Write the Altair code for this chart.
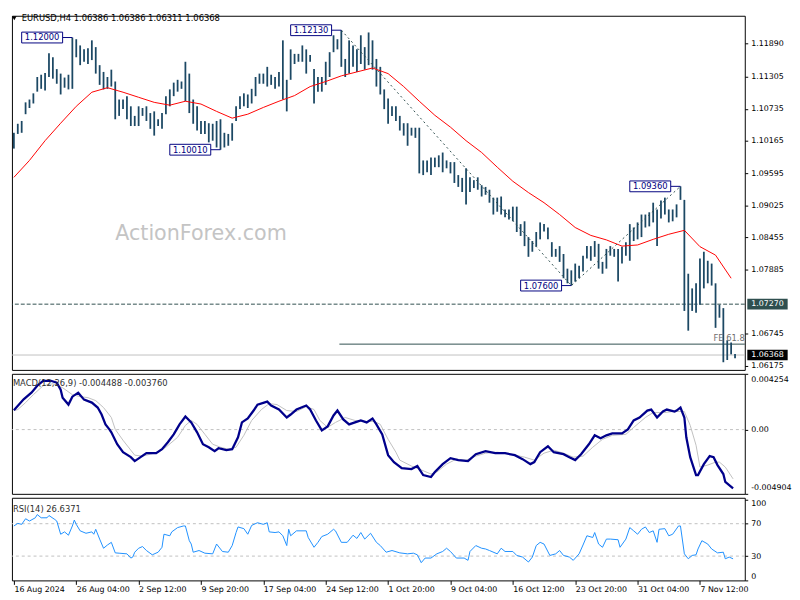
import altair as alt
import pandas as pd

# ------------------------------------------------------------------ data
# H4 bar slots (every other H4 bar is drawn), high / low prices read from the chart
bar_slot = list(range(0, 371, 2))
bar_high = [
    1.1031, 1.1047, 1.1052, 1.1085, 1.1090, 1.1101, 1.1130, 1.1134, 1.1137, 1.1172,
    1.1165, 1.1144, 1.1136, 1.1129, 1.1134, 1.1200, 1.1197, 1.1186, 1.1179, 1.1181,
    1.1195, 1.1183, 1.1151, 1.1139, 1.1130, 1.1143, 1.1122, 1.1090, 1.1090, 1.1096,
    1.1078, 1.1061, 1.1078, 1.1075, 1.1078, 1.1066, 1.1069, 1.1055, 1.1066, 1.1096,
    1.1108, 1.1120, 1.1125, 1.1122, 1.1157, 1.1136, 1.1090, 1.1078, 1.1052, 1.1052,
    1.1048, 1.1047, 1.1052, 1.1055, 1.1031, 1.1029, 1.1048, 1.1078, 1.1096, 1.1101,
    1.1099, 1.1109, 1.1130, 1.1136, 1.1136, 1.1148, 1.1134, 1.1130, 1.1139, 1.1195,
    1.1125, 1.1179, 1.1171, 1.1171, 1.1186, 1.1179, 1.1169, 1.1144, 1.1130, 1.1130,
    1.1157, 1.1174, 1.1204, 1.1197, 1.1213, 1.1162, 1.1195, 1.1186, 1.1179, 1.1204,
    1.1183, 1.1209, 1.1195, 1.1162, 1.1148, 1.1108, 1.1092, 1.1078, 1.1078, 1.1061,
    1.1048, 1.1048, 1.1040, 1.1040, 1.1040, 1.0982, 1.0982, 1.0987, 1.0987, 1.0991,
    1.0996, 1.0982, 1.0979, 1.0979, 1.0956, 1.0951, 1.0968, 1.0952, 1.0947, 1.0952,
    1.0938, 1.0935, 1.0930, 1.0916, 1.0916, 1.0918, 1.0895, 1.0895, 1.0900, 1.0900,
    1.0869, 1.0874, 1.0846, 1.0839, 1.0855, 1.0872, 1.0869, 1.0863, 1.0837, 1.0825,
    1.0830, 1.0816, 1.0790, 1.0787, 1.0799, 1.0795, 1.0813, 1.0830, 1.0830, 1.0839,
    1.0834, 1.0802, 1.0825, 1.0830, 1.0825, 1.0825, 1.0829, 1.0837, 1.0869, 1.0863,
    1.0872, 1.0886, 1.0886, 1.0890, 1.0907, 1.0895, 1.0911, 1.0916, 1.0895, 1.0895,
    1.0904, 1.0936, 1.0912, 1.0781, 1.0755, 1.0764, 1.0808, 1.0820, 1.0804, 1.0799,
    1.0764, 1.0726, 1.0720, 1.0663, 1.0659, 1.06386,
]
bar_low = [
    1.1003, 1.1029, 1.1031, 1.1064, 1.1075, 1.1083, 1.1104, 1.1109, 1.1106, 1.1130,
    1.1127, 1.1118, 1.1099, 1.1111, 1.1108, 1.1109, 1.1165, 1.1151, 1.1157, 1.1153,
    1.1160, 1.1136, 1.1116, 1.1108, 1.1109, 1.1113, 1.1055, 1.1061, 1.1073, 1.1055,
    1.1043, 1.1043, 1.1043, 1.1061, 1.1052, 1.1038, 1.1026, 1.1043, 1.1038, 1.1064,
    1.1078, 1.1096, 1.1104, 1.1109, 1.1087, 1.1066, 1.1047, 1.1035, 1.1029, 1.1029,
    1.1014, 1.1017, 1.1005, 1.1001, 1.1005, 1.1008, 1.1017, 1.1052, 1.1073, 1.1078,
    1.1075, 1.1083, 1.1096, 1.1118, 1.1118, 1.1113, 1.1116, 1.1109, 1.1113, 1.1090,
    1.1069, 1.1125, 1.1153, 1.1157, 1.1157, 1.1136, 1.1157, 1.1083, 1.1104, 1.1104,
    1.1116, 1.1130, 1.1174, 1.1179, 1.1148, 1.1130, 1.1136, 1.1148, 1.1139, 1.1153,
    1.1143, 1.1151, 1.1143, 1.1113, 1.1099, 1.1073, 1.1047, 1.1061, 1.1052, 1.1035,
    1.1026, 1.1008, 1.1026, 1.1022, 1.0959, 1.0956, 1.0961, 1.0956, 1.0970, 1.0970,
    1.0961, 1.0968, 1.0959, 1.0942, 1.0935, 1.0926, 1.0904, 1.0926, 1.0933, 1.0930,
    1.0918, 1.0921, 1.0907, 1.0886, 1.0891, 1.0886, 1.0881, 1.0877, 1.0874, 1.0855,
    1.0848, 1.0830, 1.0811, 1.0820, 1.0829, 1.0842, 1.0856, 1.0842, 1.0811, 1.0811,
    1.0802, 1.0773, 1.0764, 1.0760, 1.0767, 1.0773, 1.0785, 1.0808, 1.0804, 1.0811,
    1.0790, 1.0781, 1.0790, 1.0813, 1.0811, 1.0767, 1.0799, 1.0813, 1.0804, 1.0839,
    1.0842, 1.0846, 1.0863, 1.0865, 1.0872, 1.0830, 1.0879, 1.0886, 1.0872, 1.0874,
    1.0881, 1.0912, 1.0715, 1.0680, 1.0715, 1.0712, 1.0726, 1.0755, 1.0764, 1.0760,
    1.0685, 1.0703, 1.0624, 1.0628, 1.0638, 1.06311,
]

# red moving average
ma_slot = list(range(0, 369, 8))
ma_value = [
    1.0952, 1.0982, 1.1017, 1.1048, 1.1078, 1.1103, 1.1111, 1.1103, 1.1094, 1.1085,
    1.1080, 1.1087, 1.1082, 1.1069, 1.1057, 1.1064, 1.1076, 1.1087, 1.1097, 1.1113,
    1.1122, 1.1132, 1.1139, 1.1146, 1.1136, 1.1113, 1.1087, 1.1062, 1.1041, 1.1017,
    1.0996, 1.0970, 1.0945, 1.0925, 1.0907, 1.0886, 1.0863, 1.0849, 1.0841, 1.0830,
    1.0832, 1.0842, 1.0851, 1.0858, 1.0829, 1.0814, 1.0773,
]

# MACD(12,26,9) main line
macd_slot = [
    0, 5, 9, 12, 15, 19, 22, 24, 25, 28,
    30, 33, 36, 40, 43, 45, 47, 49, 50, 53,
    56, 60, 62, 65, 68, 73, 76, 79, 82, 85,
    88, 91, 94, 97, 100, 103, 105, 109, 112, 115,
    117, 120, 123, 125, 130, 132, 136, 140, 142, 145,
    150, 152, 155, 158, 161, 164, 166, 169, 172, 175,
    178, 181, 184, 186, 189, 192, 195, 199, 204, 207,
    210, 214, 216, 220, 224, 228, 233, 237, 242, 247,
    252, 257, 261, 265, 267, 270, 274, 277, 282, 285,
    288, 291, 295, 298, 301, 304, 307, 312, 315, 318,
    321, 325, 327, 330, 333, 335, 339, 340, 342, 344,
    345, 347, 350, 351, 354, 357, 359, 361, 364, 365,
    369,
]
macd_value = [
    0.001476, 0.002309, 0.002816, 0.003345, 0.003724, 0.003724, 0.003573, 0.003043, 0.002437, 0.001907,
    0.002513, 0.002816, 0.002286, 0.002059, 0.00168, 0.00115, 0.000394, 0.000015, -0.000212, -0.00112,
    -0.001726, -0.002104, -0.002407, -0.002104, -0.001801, -0.001801, -0.001499, -0.000969, -0.000363, 0.000394,
    0.000999, 0.000545, -0.000212, -0.00112, -0.001347, -0.00165, -0.001423, -0.001574, -0.001499, -0.00059,
    0.000545, 0.000848, 0.001453, 0.001907, 0.002134, 0.001832, 0.001529, 0.000923, 0.00115, 0.001529,
    0.001832, 0.001529, 0.000696, -0.000061, 0.000242, 0.001075, 0.001453, 0.000772, 0.000394, 0.000545,
    0.000696, 0.000545, 0.000848, 0.000394, -0.000363, -0.001953, -0.002483, -0.002937, -0.003012, -0.002785,
    -0.003467, -0.003618, -0.00324, -0.002634, -0.00218, -0.002331, -0.002407, -0.001877, -0.00165, -0.001801,
    -0.001801, -0.001953, -0.002256, -0.002634, -0.002483, -0.001726, -0.001272, -0.001726, -0.001877, -0.002104,
    -0.002331, -0.001877, -0.00112, -0.000439, -0.000666, -0.000439, -0.000288, -0.000288, 0.000015, 0.000696,
    0.000923, 0.001453, 0.001529, 0.000923, 0.001378, 0.001529, 0.001378, 0.001453, 0.00168, 0.000923,
    -0.00059, -0.002104, -0.003467, -0.003467, -0.002634, -0.002028, -0.002104, -0.00271, -0.003391, -0.003996,
    -0.004488,
]

# MACD signal line
signal_slot = [
    0, 2, 6, 10, 15, 20, 25, 30, 34, 38,
    42, 46, 50, 52, 56, 60, 62, 66, 70, 74,
    78, 84, 88, 91, 94, 98, 102, 106, 110, 114,
    118, 122, 127, 131, 135, 140, 145, 150, 154, 157,
    161, 165, 170, 175, 180, 185, 188, 192, 196, 198,
    204, 208, 214, 217, 222, 227, 232, 237, 242, 248,
    255, 262, 267, 272, 277, 282, 287, 292, 297, 302,
    307, 314, 318, 324, 328, 334, 338, 344, 347, 350,
    352, 356, 360, 362, 365, 369,
]
signal_value = [
    0.001453, 0.001529, 0.002059, 0.002664, 0.003345, 0.003497, 0.003194, 0.002664, 0.002513, 0.002437,
    0.00221, 0.00168, 0.000923, 0.000015, -0.000817, -0.001574, -0.001953, -0.002028, -0.001877, -0.001726,
    -0.001347, -0.00059, 0.000318, 0.000696, 0.000394, -0.000363, -0.00112, -0.001347, -0.001499, -0.001347,
    -0.000439, 0.000696, 0.001529, 0.001983, 0.001907, 0.001453, 0.001378, 0.001756, 0.001529, 0.000696,
    0.000167, 0.000545, 0.000923, 0.000696, 0.000621, 0.000621, 0.000394, -0.000742, -0.001726, -0.002331,
    -0.002785, -0.003012, -0.003391, -0.00324, -0.002634, -0.002256, -0.002331, -0.002028, -0.001801, -0.001726,
    -0.001877, -0.002104, -0.002331, -0.001801, -0.001574, -0.001801, -0.002104, -0.002028, -0.001347, -0.000742,
    -0.000439, -0.000363, 0.000167, 0.000923, 0.001302, 0.001302, 0.001378, 0.001378, 0.000318, -0.001196,
    -0.002861, -0.00271, -0.002483, -0.002483, -0.002861, -0.00376,
]

# RSI(14)
rsi_slot = [
    0, 2, 4, 6, 8, 11, 12, 14, 17, 18,
    21, 22, 24, 26, 28, 30, 31, 32, 34, 37,
    40, 41, 42, 44, 46, 48, 50, 52, 54, 58,
    60, 61, 62, 64, 66, 68, 71, 74, 76, 77,
    80, 81, 84, 87, 88, 90, 91, 92, 95, 98,
    102, 104, 107, 110, 112, 114, 115, 118, 120, 122,
    125, 128, 130, 131, 134, 136, 138, 140, 141, 142,
    145, 150, 151, 154, 156, 158, 161, 164, 165, 168,
    171, 174, 176, 178, 180, 183, 186, 188, 191, 194,
    198, 202, 205, 207, 209, 211, 214, 217, 220, 222,
    224, 227, 231, 233, 234, 237, 240, 242, 244, 248,
    250, 252, 256, 258, 261, 264, 266, 268, 270, 272,
    275, 278, 280, 282, 285, 287, 290, 292, 294, 297,
    298, 300, 302, 304, 306, 310, 311, 314, 316, 318,
    320, 322, 324, 326, 328, 330, 331, 334, 336, 338,
    341, 342, 344, 346, 348, 350, 351, 353, 356, 358,
    361, 364, 365, 367, 369,
]
rsi_value = [
    67.2, 70.4, 69.2, 76.1, 73.3, 77.3, 81.3, 77.3, 77.3, 80.1,
    75.2, 73.3, 57.0, 59.9, 55.8, 67.2, 74.5, 69.2, 61.2, 58.2,
    59.9, 57.0, 63.1, 51.0, 39.7, 43.7, 47.0, 34.0, 33.6, 32.8,
    27.6, 28.8, 34.8, 39.7, 41.8, 36.9, 31.6, 34.8, 40.9, 57.0,
    55.1, 59.9, 65.2, 67.2, 67.2, 49.0, 44.9, 34.8, 36.9, 33.6,
    32.8, 44.9, 35.7, 34.8, 43.0, 59.1, 66.0, 63.9, 57.0, 67.9,
    71.2, 69.2, 71.2, 59.9, 59.1, 59.9, 55.1, 43.0, 63.1, 55.1,
    61.2, 61.2, 53.0, 40.9, 47.0, 54.2, 57.0, 63.1, 61.2, 47.0,
    47.0, 55.8, 51.8, 59.1, 51.0, 58.2, 47.0, 43.0, 34.8, 36.9,
    34.0, 32.8, 33.6, 31.6, 21.9, 27.6, 27.6, 32.8, 35.7, 39.7,
    35.7, 27.6, 27.6, 24.8, 35.7, 43.0, 39.7, 38.8, 36.9, 32.8,
    39.7, 35.7, 35.7, 30.8, 28.8, 22.7, 28.8, 43.0, 47.0, 44.9,
    30.8, 32.8, 36.9, 30.8, 28.8, 24.8, 32.8, 43.7, 55.1, 53.0,
    59.1, 44.9, 40.9, 51.0, 51.0, 50.2, 40.9, 51.0, 65.2, 61.2,
    57.0, 63.1, 66.0, 59.1, 61.2, 47.0, 63.1, 63.9, 55.1, 57.0,
    67.2, 67.2, 32.8, 26.7, 30.8, 31.6, 38.8, 49.0, 44.9, 38.8,
    34.0, 34.8, 26.7, 28.8, 26.6371,
]

# axis ticks / labels
price_ticks = [1.11890, 1.11305, 1.10735, 1.10165, 1.09595, 1.09025, 1.08455, 1.07885, 1.06745, 1.06175]
time_slots = [0, 32, 64, 96, 128, 160, 192, 224, 256, 288, 320, 352]
time_labels = ["16 Aug 2024", "26 Aug 04:00", "2 Sep 12:00", "9 Sep 20:00", "17 Sep 04:00",
               "24 Sep 12:00", "1 Oct 20:00", "9 Oct 04:00", "16 Oct 12:00", "23 Oct 20:00",
               "31 Oct 04:00", "7 Nov 12:00"]
macd_ticks = [0.004254, 0.0, -0.004904]
rsi_ticks = [100, 70, 30, 0]

# swing point annotations
swing_slot = [30, 106, 168, 286, 342]
swing_price = [1.12000, 1.10010, 1.12130, 1.07600, 1.09360]
swing_text = ["1.12000", "1.10010", "1.12130", "1.07600", "1.09360"]

# fibonacci expansion tool (A-B-C) and level lines
fe_slot = [168, 286, 342]
fe_price = [1.12130, 1.07600, 1.09360]
fe618_price = 1.06561
level_price = 1.07270
last_price = 1.06368

title_text = "EURUSD,H4  1.06386 1.06386 1.06311 1.06368"
macd_title = "MACD(12,26,9) -0.004488 -0.003760"
rsi_title = "RSI(14) 26.6371"

# ------------------------------------------------------------------ styling
FONT = "DejaVu Sans"
BAR = "#1C4864"
SLATE = "#2F4F4F"
NAVY = "#000080"
W = 745
XS = alt.Scale(domain=[-1, 375], nice=False, zero=False)
YM = alt.Scale(domain=[1.06104, 1.12386], nice=False, zero=False)
YD = alt.Scale(domain=[-0.004904, 0.004254], nice=False, zero=False)
YR = alt.Scale(domain=[0, 102], nice=False, zero=False)

common_axis = dict(grid=False, domain=False, tickSize=3, tickColor="black", labelColor="black",
                   labelFont=FONT, labelFontSize=8, labelPadding=3, title=None, labelOverlap=False)
main_axis = alt.Axis(orient="right", values=price_ticks, format=".5f", **common_axis)
macd_axis = alt.Axis(orient="right", values=macd_ticks,
                     labelExpr="datum.value > 0.004 ? '0.004254' : (datum.value < -0.004 ? '-0.004904' : '0.00')",
                     labelFlush=4, labelFlushOffset=-2, **common_axis)
rsi_axis = alt.Axis(orient="right", values=rsi_ticks, format="d", labelFlush=4, labelFlushOffset=0,
                    **common_axis)

label_expr = " : ".join(f"datum.value == {s} ? '{l}'" for s, l in zip(time_slots, time_labels)) + " : ''"
time_axis = alt.Axis(values=time_slots, labelExpr=label_expr, labelAlign="left", labelBaseline="top",
                     tickSize=4, tickColor="black", domain=False, grid=False, labelPadding=1,
                     labelOverlap=False, labelFlush=False, labelFont=FONT, labelFontSize=8,
                     labelColor="black", title=None)


def xm(field):
    return alt.X(field, type="quantitative", scale=XS, axis=None)


def xr(field):
    return alt.X(field, type="quantitative", scale=XS, axis=time_axis)


def ym(field):
    return alt.Y(field, type="quantitative", scale=YM, axis=main_axis)


def yd(field):
    return alt.Y(field, type="quantitative", scale=YD, axis=macd_axis)


def yr(field):
    return alt.Y(field, type="quantitative", scale=YR, axis=rsi_axis)


# ------------------------------------------------------------------ main panel
bars_df = pd.DataFrame({"slot": bar_slot, "high": bar_high, "low": bar_low})
ma_df = pd.DataFrame({"slot": ma_slot, "v": ma_value})
sw = pd.DataFrame({"slot": swing_slot, "p": swing_price, "t": swing_text})
sw["bx0"] = sw["slot"] - 26
sw["bx1"] = sw["slot"] - 5
sw["tx"] = sw["slot"] - 15.5
sw["ptop"] = sw["p"] + 0.00096
sw["pbot"] = sw["p"] - 0.00096
fe_df = pd.DataFrame({"slot": fe_slot, "p": fe_price})
lvl = pd.DataFrame({"p": [level_price]})
last = pd.DataFrame({"p": [last_price]})
fe618 = pd.DataFrame({"x0": [fe_slot[0] - 1], "x1": [375], "p": [fe618_price], "t": ["FE 61.8"]})
boxes = pd.DataFrame({"p": [level_price, last_price], "t": ["1.07270", "1.06368"],
                      "fill": [SLATE, "#000000"]})
boxes["x0"] = 376.3
boxes["x1"] = 397.0
boxes["tx"] = 386.7
boxes["ptop"] = boxes["p"] + 0.00094
boxes["pbot"] = boxes["p"] - 0.00094
wm = pd.DataFrame({"slot": [96], "p": [1.0851], "t": ["ActionForex.com"]})
ttl = pd.DataFrame({"slot": [4], "tri": [0.2], "p": [1.12343], "t": [title_text]})

watermark = alt.Chart(wm).mark_text(font=FONT, fontSize=21, color="#C4C4C4").encode(
    x=xm("slot"), y=ym("p"), text="t:N")
level_line = alt.Chart(lvl).mark_rule(color=SLATE, strokeDash=[4, 2], strokeWidth=1).encode(y=ym("p"))
last_line = alt.Chart(last).mark_rule(color="#C0C0C0", strokeWidth=1).encode(y=ym("p"))
fe_line = alt.Chart(fe618).mark_rule(color=SLATE, strokeWidth=1).encode(x=xm("x0"), x2="x1:Q", y=ym("p"))
bars = alt.Chart(bars_df).mark_rule(color=BAR, strokeWidth=1.8).encode(x=xm("slot"), y=ym("low"), y2="high:Q")
ma_line = alt.Chart(ma_df).mark_line(color="#FF0000", strokeWidth=1).encode(x=xm("slot"), y=ym("v"))
fe_path = alt.Chart(fe_df).mark_line(color=SLATE, strokeWidth=1, strokeDash=[2, 3]).encode(
    x=xm("slot"), y=ym("p"))
sw_rect = alt.Chart(sw).mark_rect(fill="white", stroke=NAVY, strokeWidth=1).encode(
    x=xm("bx0"), x2="bx1:Q", y=ym("ptop"), y2="pbot:Q")
sw_link = alt.Chart(sw).mark_rule(color=NAVY, strokeWidth=1).encode(x=xm("bx1"), x2="slot:Q", y=ym("p"))
sw_text = alt.Chart(sw).mark_text(font=FONT, fontSize=8.5, color=NAVY).encode(
    x=xm("tx"), y=ym("p"), text="t:N")
fe_text = alt.Chart(fe618).mark_text(font=FONT, fontSize=8.5, color="#6E6E6E", align="right",
                                     baseline="bottom", dy=-1).encode(x=xm("x1"), y=ym("p"), text="t:N")
box_rect = alt.Chart(boxes).mark_rect().encode(
    x=xm("x0"), x2="x1:Q", y=ym("ptop"), y2="pbot:Q", color=alt.Color("fill:N", scale=None))
box_text = alt.Chart(boxes).mark_text(font=FONT, fontSize=8, color="white").encode(
    x=xm("tx"), y=ym("p"), text="t:N")
title_tri = alt.Chart(ttl).mark_point(shape="triangle-down", filled=True, color="black", size=22,
                                      opacity=1).encode(x=xm("tri"), y=ym("p"))
title_txt = alt.Chart(ttl).mark_text(font=FONT, fontSize=8.5, color="black", align="left").encode(
    x=xm("slot"), y=ym("p"), text="t:N")

main = alt.layer(watermark, level_line, last_line, fe_line, bars, ma_line, fe_path, sw_link, sw_rect,
                 sw_text, fe_text, box_rect, box_text, title_tri, title_txt).properties(width=W, height=360)

# ------------------------------------------------------------------ MACD panel
macd_df = pd.DataFrame({"slot": macd_slot, "v": macd_value})
sig_df = pd.DataFrame({"slot": signal_slot, "v": signal_value})
zero_df = pd.DataFrame({"v": [0.0]})
mt = pd.DataFrame({"slot": [-0.5], "v": [0.00357], "t": [macd_title]})

macd = alt.layer(
    alt.Chart(zero_df).mark_rule(color="#C0C0C0", strokeDash=[3, 3]).encode(y=yd("v")),
    alt.Chart(sig_df).mark_line(color="#C0C0C0", strokeWidth=1).encode(x=xm("slot"), y=yd("v")),
    alt.Chart(macd_df).mark_line(color="#00008B", strokeWidth=2.3).encode(x=xm("slot"), y=yd("v")),
    alt.Chart(mt).mark_text(font=FONT, fontSize=8.5, color="#303030", align="left").encode(
        x=xm("slot"), y=yd("v"), text="t:N"),
).properties(width=W, height=122)

# ------------------------------------------------------------------ RSI panel
rsi_df = pd.DataFrame({"slot": rsi_slot, "v": rsi_value})
lv_df = pd.DataFrame({"v": [70, 30]})
rt = pd.DataFrame({"slot": [-0.5], "v": [88.6], "t": [rsi_title]})

rsi = alt.layer(
    alt.Chart(lv_df).mark_rule(color="#C0C0C0", strokeDash=[3, 3]).encode(y=yr("v")),
    alt.Chart(rsi_df).mark_line(color="#1E90FF", strokeWidth=1).encode(x=xr("slot"), y=yr("v")),
    alt.Chart(rt).mark_text(font=FONT, fontSize=8.5, color="#303030", align="left").encode(
        x=xr("slot"), y=yr("v"), text="t:N"),
).properties(width=W, height=84)

chart = alt.vconcat(main, macd, rsi, spacing=2).properties(
    padding=0, background="white"
).configure_view(stroke="black", strokeWidth=1)

chart.save("out.html", embed_options={"renderer": "svg", "actions": False})
